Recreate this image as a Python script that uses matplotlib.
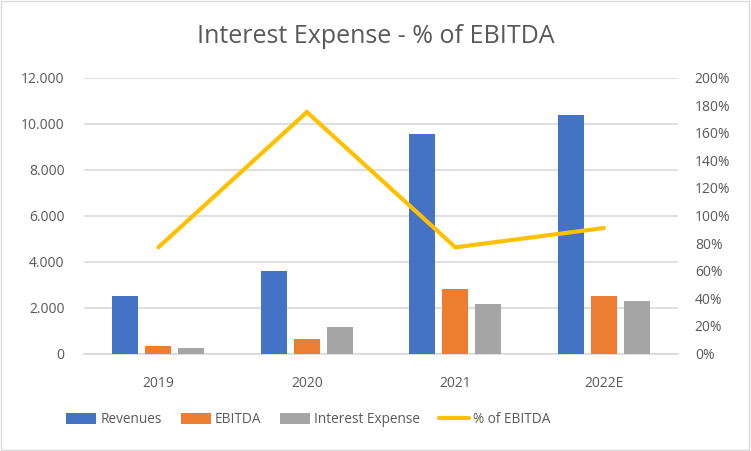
import matplotlib.pyplot as plt
import numpy as np
from matplotlib.ticker import FuncFormatter
from matplotlib.patches import Rectangle

plt.rcParams['font.family'] = ['Open Sans', 'DejaVu Sans']

# data
years = ['2019', '2020', '2021', '2022E']
revenues = [2520, 3600, 9550, 10380]
ebitda = [340, 640, 2810, 2500]
interest = [250, 1160, 2160, 2290]
pct_ebitda = [77, 175, 77, 91]

c_rev = '#4472C4'
c_ebit = '#ED7D31'
c_int = '#A5A5A5'
c_pct = '#FFC000'
c_txt = '#595959'
c_grid = '#D9D9D9'

fig = plt.figure(figsize=(7.51, 4.51), dpi=100)
ax = fig.add_axes([0.112, 0.216, 0.791, 0.612])
ax2 = ax.twinx()

x = np.arange(len(years))
w = 0.175
off = 0.222
b1 = ax.bar(x - off, revenues, w, color=c_rev, label='Revenues', zorder=3)
b2 = ax.bar(x, ebitda, w, color=c_ebit, label='EBITDA', zorder=3)
b3 = ax.bar(x + off, interest, w, color=c_int, label='Interest Expense', zorder=3)
l1, = ax2.plot(x, pct_ebitda, color=c_pct, lw=3, solid_capstyle='round',
               solid_joinstyle='miter', label='% of EBITDA')

ax.set_xlim(-0.5, 3.5)
ax.set_ylim(0, 12000)
ax.set_yticks(np.arange(0, 12001, 2000))
ax.yaxis.set_major_formatter(FuncFormatter(lambda v, p: f'{int(v):,}'.replace(',', '.')))
ax2.set_ylim(0, 200)
ax2.set_yticks(np.arange(0, 201, 20))
ax2.yaxis.set_major_formatter(FuncFormatter(lambda v, p: f'{int(v)}%'))

ax.set_xticks(x)
ax.set_xticklabels(years)
ax.grid(axis='y', color=c_grid, lw=1.2, zorder=0)
for a in (ax, ax2):
    for s in a.spines.values():
        s.set_visible(False)
    a.tick_params(length=0, colors=c_txt, labelsize=10)
ax.spines['bottom'].set_visible(True)
ax.spines['bottom'].set_color(c_grid)
ax.spines['bottom'].set_linewidth(1.2)
ax.tick_params(axis='y', pad=14)
ax.tick_params(axis='x', pad=16)
ax2.tick_params(axis='y', pad=12)

fig.text(0.5, 0.918, 'Interest Expense - % of EBITDA', ha='center', va='center',
         fontsize=18, color=c_txt)

fig.legend([b1, b2, b3, l1], ['Revenues', 'EBITDA', 'Interest Expense', '% of EBITDA'],
           loc='center left', bbox_to_anchor=(0.072, 0.069), ncol=4, frameon=False,
           fontsize=9.8, labelcolor=c_txt, handlelength=2.2, handleheight=0.8,
           columnspacing=1.4, handletextpad=0.3)

fig.patches.append(Rectangle((0.001, 0.002), 0.997, 0.995, transform=fig.transFigure,
                             fill=False, edgecolor='#D9D9D9', lw=1))

fig.savefig('out.png', dpi=100)
